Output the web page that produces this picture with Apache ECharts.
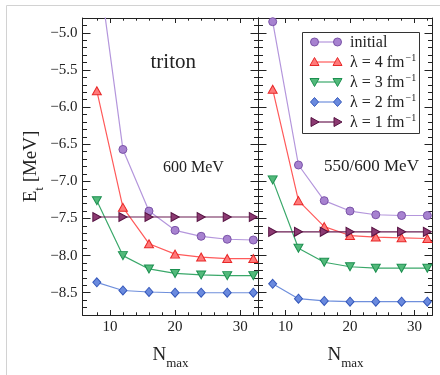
<!DOCTYPE html>
<html>
<head>
<meta charset="utf-8">
<script src="https://cdn.jsdelivr.net/npm/echarts@6/dist/echarts.min.js"></script>
<style>
  html, body { margin: 0; padding: 0; background: #fff; }
  #chart { width: 440px; height: 375px; }
</style>
</head>
<body>
<div id="chart"></div>
<script>
// Triton ground-state energy vs. model-space size N_max
const nmax = [8, 12, 16, 20, 24, 28, 32];

// 600 MeV interaction
const initial600 = [-3.95, -6.57, -7.40, -7.66, -7.74, -7.78, -7.79];
const lam4_600   = [-5.78, -7.35, -7.84, -7.98, -8.02, -8.04, -8.04];
const lam3_600   = [-7.26, -8.00, -8.18, -8.24, -8.26, -8.27, -8.27];
const lam2_600   = [-8.36, -8.47, -8.49, -8.50, -8.50, -8.50, -8.50];
const lam1_600   = [-7.48, -7.48, -7.48, -7.48, -7.48, -7.48, -7.48];

// 550/600 MeV interaction
const initial550 = [-4.85, -6.78, -7.26, -7.40, -7.45, -7.46, -7.46];
const lam4_550   = [-5.76, -7.26, -7.61, -7.73, -7.75, -7.76, -7.77];
const lam3_550   = [-6.98, -7.90, -8.09, -8.15, -8.17, -8.17, -8.17];
const lam2_550   = [-8.38, -8.58, -8.61, -8.62, -8.62, -8.62, -8.62];
const lam1_550   = [-7.68, -7.68, -7.68, -7.68, -7.68, -7.68, -7.68];

const panelTitles = ['600 MeV', '550/600 MeV'];
const legendLabels = ['initial', 'λ = 4 fm', 'λ = 3 fm', 'λ = 2 fm', 'λ = 1 fm'];
const legendSup = ['', '−1', '−1', '−1', '−1'];

const xMajor = [10, 20, 30];
const yMajor = [-8.5, -8.0, -7.5, -7.0, -6.5, -6.0, -5.5, -5.0];

const X_MIN = 5.8, X_MAX = 32.8, Y_MIN = -8.8, Y_MAX = -4.8;

const xMinor = [];
for (let v = 8; v <= 32; v += 2) if (v % 10 !== 0) xMinor.push(v);
const yMinor = [];
for (let k = -87; k <= -49; k++) if (k % 5 !== 0) yMinor.push(k / 10);

const FONT = '"Liberation Serif", "DejaVu Serif", serif';
const INK = '#222';

const styles = [
  { symbol: 'circle',   size: 8,      rotate: 0,   line: '#b496dc', fill: '#a782d0', border: '#7b54a8' },
  { symbol: 'triangle', size: [9, 8], rotate: 0,   line: '#ff5a5a', fill: '#ff7a7a', border: '#e82828' },
  { symbol: 'triangle', size: [9, 8], rotate: 180, line: '#3aa86a', fill: '#52b97a', border: '#1c9050' },
  { symbol: 'diamond',  size: [8, 9], rotate: 0,   line: '#6f8fdc', fill: '#6a8ade', border: '#3558bb' },
  { symbol: 'triangle', size: [9, 8], rotate: -90, line: '#6a1c52', fill: '#8c3a72', border: '#561242' }
];

const panels = [
  [initial600, lam4_600, lam3_600, lam2_600, lam1_600],
  [initial550, lam4_550, lam3_550, lam2_550, lam1_550]
];

const grids = [
  { left: 82.5, top: 18, width: 176, height: 309 },
  { left: 258.5, top: 18, width: 174, height: 309 }
];

const tickLine = { color: INK, width: 1 };

const xAxes = [], yAxes = [];
grids.forEach((g, p) => {
  const common = { type: 'value', gridIndex: p, min: X_MIN, max: X_MAX, splitLine: { show: false } };
  ['bottom', 'top'].forEach(pos => {
    xAxes.push(Object.assign({}, common, {
      position: pos,
      axisLine: { show: true, onZero: false, lineStyle: tickLine },
      axisTick: { show: true, inside: true, length: 5, customValues: xMajor, lineStyle: tickLine },
      axisLabel: pos === 'bottom'
        ? { show: true, customValues: xMajor, margin: 5, fontFamily: FONT, fontSize: 15, color: INK }
        : { show: false },
      name: pos === 'bottom' ? '{n|N}{s|max}' : '',
      nameLocation: 'middle',
      nameGap: 28,
      nameTextStyle: {
        rich: {
          n: { fontFamily: FONT, fontSize: 19, color: INK, verticalAlign: 'bottom', lineHeight: 22 },
          s: { fontFamily: FONT, fontSize: 13, color: INK, verticalAlign: 'bottom', lineHeight: 22, padding: [0, 0, -5, 0] }
        }
      }
    }));
    xAxes.push(Object.assign({}, common, {
      position: pos,
      axisLine: { show: false },
      axisTick: { show: true, inside: true, length: 2.7, customValues: xMinor, lineStyle: tickLine },
      axisLabel: { show: false }
    }));
  });
  const ycommon = { type: 'value', gridIndex: p, min: Y_MIN, max: Y_MAX, splitLine: { show: false } };
  ['left', 'right'].forEach(pos => {
    const showLabels = p === 0 && pos === 'left';
    yAxes.push(Object.assign({}, ycommon, {
      position: pos,
      axisLine: { show: true, onZero: false, lineStyle: tickLine },
      axisTick: { show: true, inside: true, length: 8, customValues: yMajor, lineStyle: tickLine },
      axisLabel: showLabels
        ? { show: true, customValues: yMajor, margin: 5, fontFamily: FONT, fontSize: 15, color: INK,
            formatter: v => (v < 0 ? '−' : '') + Math.abs(v).toFixed(1) }
        : { show: false },
      name: showLabels ? '{e|E}{t|t}{e| [MeV]}' : '',
      nameLocation: 'middle',
      nameRotate: 90,
      nameGap: 42,
      nameTextStyle: {
        rich: {
          e: { fontFamily: FONT, fontSize: 19, color: INK, verticalAlign: 'bottom', lineHeight: 22 },
          t: { fontFamily: FONT, fontSize: 13, color: INK, verticalAlign: 'bottom', lineHeight: 22, padding: [0, 0, -6, 0] }
        }
      }
    }));
    yAxes.push(Object.assign({}, ycommon, {
      position: pos,
      axisLine: { show: false },
      axisTick: { show: true, inside: true, length: 4.5, customValues: yMinor, lineStyle: tickLine },
      axisLabel: { show: false }
    }));
  });
});

const series = [];
panels.forEach((sets, p) => {
  sets.forEach((vals, i) => {
    const s = styles[i];
    series.push({
      type: 'line',
      name: legendLabels[i] + legendSup[i] + ' / ' + panelTitles[p],
      xAxisIndex: p * 4,
      yAxisIndex: p * 4,
      data: nmax.map((n, k) => [n, vals[k]]),
      symbol: s.symbol,
      symbolSize: s.size,
      symbolRotate: s.rotate,
      showSymbol: true,
      clip: true,
      lineStyle: { color: s.line, width: 1.2 },
      itemStyle: { color: s.fill, borderColor: s.border, borderWidth: 1 },
      emphasis: { disabled: true },
      z: 3 + i
    });
  });
});

// legend key: line with a marker at each end
function keyMarker(i, cx, cy) {
  const s = styles[i];
  const st = { fill: s.fill, stroke: s.border, lineWidth: 1 };
  if (s.symbol === 'circle') return { type: 'circle', shape: { cx, cy, r: 4 }, style: st };
  let pts;
  if (s.symbol === 'diamond') pts = [[cx, cy - 4.5], [cx + 4, cy], [cx, cy + 4.5], [cx - 4, cy]];
  else if (s.rotate === 180) pts = [[cx - 4.5, cy - 3.5], [cx + 4.5, cy - 3.5], [cx, cy + 4.5]];
  else if (s.rotate === -90) pts = [[cx - 3.5, cy - 4.5], [cx + 4.5, cy], [cx - 3.5, cy + 4.5]];
  else pts = [[cx, cy - 4.5], [cx + 4.5, cy + 3.5], [cx - 4.5, cy + 3.5]];
  return { type: 'polygon', shape: { points: pts }, style: st };
}

const legendChildren = [{
  type: 'rect', shape: { x: 302.5, y: 32.5, width: 117, height: 101 },
  style: { fill: '#fff', stroke: '#333', lineWidth: 1 }
}];
legendLabels.forEach((lab, i) => {
  const y = 42 + i * 20;
  legendChildren.push({ type: 'line', shape: { x1: 314.5, y1: y, x2: 337.5, y2: y },
    style: { stroke: styles[i].line, lineWidth: 1.2 } });
  legendChildren.push(keyMarker(i, 314.5, y));
  legendChildren.push(keyMarker(i, 337.5, y));
  legendChildren.push({
    type: 'text', x: 350, y: y,
    style: {
      text: '{a|' + lab + '}' + (legendSup[i] ? '{b|' + legendSup[i] + '}' : ''),
      verticalAlign: 'middle',
      rich: {
        a: { fontFamily: FONT, fontSize: 16, fill: INK, verticalAlign: 'bottom', lineHeight: 18 },
        b: { fontFamily: FONT, fontSize: 10, fill: INK, verticalAlign: 'bottom', lineHeight: 18, padding: [0, 0, 8, 1] }
      }
    }
  });
});

const option = {
  animation: false,
  backgroundColor: '#fff',
  grid: grids,
  xAxis: xAxes,
  yAxis: yAxes,
  series: series,
  graphic: [
    { type: 'rect', z: -10, silent: true, shape: { x: 6.5, y: 5.5, width: 600, height: 600 },
      style: { fill: 'none', stroke: '#d2d2d2', lineWidth: 1 } },
    { type: 'text', x: 150.5, y: 62, z: 10,
      style: { text: 'triton', fontFamily: FONT, fontSize: 21, fill: INK, verticalAlign: 'middle' } },
    { type: 'text', x: 163, y: 168, z: 10,
      style: { text: panelTitles[0], fontFamily: FONT, fontSize: 16, fill: INK, verticalAlign: 'middle' } },
    { type: 'text', x: 324, y: 167, z: 10,
      style: { text: panelTitles[1], fontFamily: FONT, fontSize: 17, fill: INK, verticalAlign: 'middle' } },
    { type: 'group', z: 20, children: legendChildren }
  ]
};

const chart = echarts.init(document.getElementById('chart'), null, { renderer: 'canvas' });
chart.setOption(option);
</script>
</body>
</html>
